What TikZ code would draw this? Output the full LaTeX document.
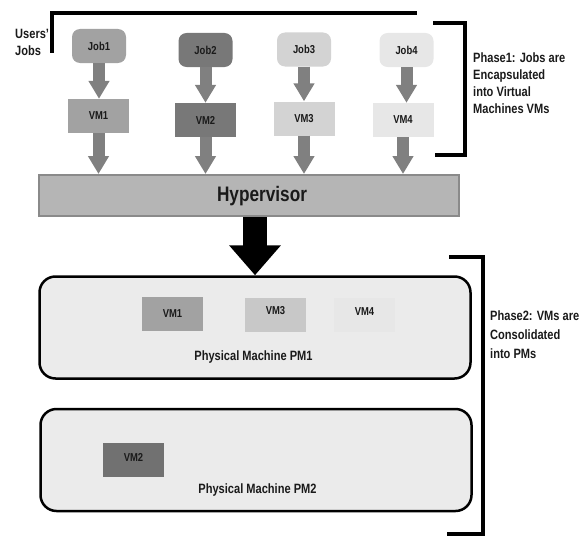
\documentclass[tikz,border=0pt]{standalone}
\usepackage{fontspec}
\setmainfont{Liberation Sans}[FakeStretch=0.82]
\usetikzlibrary{arrows.meta}

\definecolor{shadeA}{HTML}{A2A2A2}
\definecolor{shadeB}{HTML}{787878}
\definecolor{shadeC}{HTML}{D3D3D3}
\definecolor{shadeD}{HTML}{E7E7E7}
\definecolor{arrowgray}{HTML}{808080}
\definecolor{hypgray}{HTML}{B5B5B5}
\definecolor{hypline}{HTML}{8A8A8A}
\definecolor{pmgray}{HTML}{EBEBEB}
\definecolor{inkgray}{HTML}{1A1A1A}

\newcommand{\lblfont}{\fontsize{11.5}{13}\selectfont\bfseries}
\newcommand{\notefont}{\fontsize{13.5}{17}\selectfont\bfseries}
\newcommand{\hypfont}{\fontsize{21}{24}\selectfont\bfseries}

\tikzset{
  jobbox/.style={rounded corners=8pt, minimum width=54pt, minimum height=34pt, inner sep=0pt, font=\lblfont, text=inkgray},
  vmbox/.style={minimum width=61pt, minimum height=34pt, inner sep=0pt, font=\lblfont, text=inkgray},
  pmbox/.style={draw=black, line width=2.5pt, rounded corners=16pt, fill=pmgray, minimum width=431pt, minimum height=102pt},
  garrow/.style={draw=arrowgray, line width=12pt, -{Triangle[width=20pt,length=18pt]}},
  bigarrow/.style={draw=black, line width=24pt, -{Triangle[width=50pt,length=30pt]}},
  bracket/.style={line width=3.5pt},
  note/.style={font=\notefont, text=inkgray, align=left, anchor=west, inner sep=0pt}
}

\begin{document}
\begin{tikzpicture}[x=1pt, y=-1pt]
\useasboundingbox (0,0) rectangle (588,535);

% phase 1
\draw[bracket](52,53)--(52,13)--(417,13);
\node[note](users) at (15,42.5){Users'\\Jobs};

\foreach \i/\x/\y/\c in {1/99/46/shadeA, 2/205.5/50/shadeB, 3/304/49.5/shadeC, 4/406.5/50/shadeD}
{
    \node[jobbox, fill=\c](job\i) at (\x,\y){Job\i};
}
\foreach \i/\x/\y/\c in {1/98.5/116/shadeA, 2/205.5/120/shadeB, 3/304/118.5/shadeC, 4/403/120/shadeD}
{
    \node[vmbox, fill=\c](vm\i) at (\x,\y){VM\i};
}

\node[draw=hypline, line width=2pt, fill=hypgray, minimum width=420pt, minimum height=41pt](hyp) at (249,195.5){};
\node[font=\hypfont, text=inkgray](hyplabel) at (262,196){Hypervisor};

\foreach \i in {1,...,4}
{
    \draw[garrow](job\i.south)--(job\i.south |- vm\i.north);
    \draw[garrow](vm\i.south)--(vm\i.south |- hyp.north);
}

\draw[bracket](433,23)--(465,23)--(465,155)--(435,155);
\node[note](phase1) at (473,83){Phase1: Jobs are\\Encapsulated\\into Virtual\\Machines VMs};

% phase 2
\node[pmbox](pm1) at (255,327.5){};
\node[pmbox](pm2) at (256,460){};
\draw[bigarrow]([xshift=6pt]hyp.south)--([xshift=6pt]hyp.south |- pm1.north);

\node[vmbox, fill=shadeA](pvm1) at (172.5,313.5){VM1};
\node[vmbox, fill=shadeC!95!black, text depth=9pt](pvm3) at (275.5,315){VM3};
\node[vmbox, fill=shadeD, text depth=6pt](pvm4) at (364.5,314.5){VM4};
\node[vmbox, fill=shadeB!105, text depth=5pt](pvm2) at (133.5,459.5){VM2};
\node[font=\notefont, text=inkgray](pm1label) at (253.5,357){Physical Machine PM1};
\node[font=\notefont, text=inkgray](pm2label) at (257.5,490){Physical Machine PM2};

\draw[bracket](449,257)--(483,257)--(483,534)--(447,534);
\node[note, text depth=0pt, font=\fontsize{13.5}{19}\selectfont\bfseries](phase2) at (490,335){Phase2: VMs are\\Consolidated\\into PMs};
\end{tikzpicture}
\end{document}
